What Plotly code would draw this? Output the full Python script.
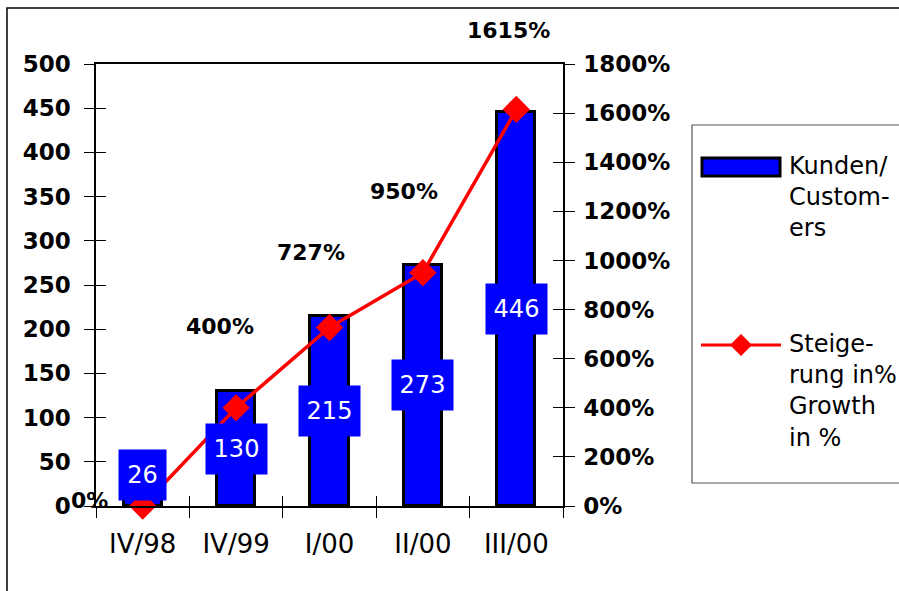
import plotly.graph_objects as go

# ---- data ----
quarters = ["IV/98", "IV/99", "I/00", "II/00", "III/00"]
customers = [26, 130, 215, 273, 446]
growth_pct = [0, 400, 727, 950, 1615]
left_ticks = list(range(0, 501, 50))
right_ticks = list(range(0, 1801, 200))
right_tick_text = [f"{v}%" for v in right_ticks]

W, H = 899, 591
L, R, T, B = 96, 563, 64, 506  # plot area in px


def px(x):
    return (x - L) / (R - L)


def py(y):
    return (B - y) / (B - T)


FONT = "DejaVu Sans"

fig = go.Figure()

fig.add_trace(go.Bar(
    x=quarters, y=customers, width=0.41,
    marker=dict(color="#0000ff", line=dict(color="black", width=3)),
    showlegend=False, hoverinfo="skip", xaxis="x", yaxis="y",
))
fig.add_trace(go.Scatter(
    x=quarters, y=growth_pct, mode="lines+markers",
    line=dict(color="#ff0000", width=3.5),
    marker=dict(symbol="diamond", size=21, color="#ff0000"),
    cliponaxis=False, showlegend=False, hoverinfo="skip",
    xaxis="x", yaxis="y2",
))
# invisible helpers for inside tick copies
fig.add_trace(go.Scatter(x=quarters, y=customers, mode="markers",
                         marker=dict(opacity=0), showlegend=False,
                         hoverinfo="skip", xaxis="x2", yaxis="y3"))
fig.add_trace(go.Scatter(x=quarters, y=growth_pct, mode="markers",
                         marker=dict(opacity=0), showlegend=False,
                         hoverinfo="skip", xaxis="x", yaxis="y4"))

tickfont_b = dict(family=FONT, size=23, color="black", weight="bold")

fig.update_layout(
    width=W, height=H,
    margin=dict(l=L, r=W - R, t=T, b=H - B, pad=0),
    paper_bgcolor="white", plot_bgcolor="white",
    bargap=0, hovermode=False,
    xaxis=dict(type="category", categoryorder="array", categoryarray=quarters,
               tickson="boundaries", ticks="outside", ticklen=10,
               tickcolor="black", tickwidth=1,
               showline=True, linecolor="black", linewidth=1.5, mirror=True,
               showgrid=False, zeroline=False,
               tickfont=dict(family=FONT, size=26, color="black"),
               ticklabelstandoff=14,
               anchor="y", domain=[0, 1], range=[-0.5, 4.5]),
    xaxis2=dict(type="category", categoryorder="array", categoryarray=quarters,
                tickson="boundaries", ticks="inside", ticklen=10,
                tickcolor="black", tickwidth=1, showticklabels=False,
                showline=False, showgrid=False, zeroline=False,
                overlaying="x", anchor="y", range=[-0.5, 4.5]),
    yaxis=dict(range=[0, 500], tickvals=left_ticks, ticks="outside", ticklen=10,
               tickcolor="black", tickwidth=1,
               showline=True, linecolor="black", linewidth=1.5,
               showgrid=False, zeroline=False, tickfont=tickfont_b,
               ticklabelstandoff=9),
    yaxis2=dict(range=[0, 1800], tickvals=right_ticks, ticktext=right_tick_text,
                overlaying="y", side="right", ticks="outside", ticklen=10,
                tickcolor="black", tickwidth=1,
                showline=True, linecolor="black", linewidth=1.5,
                showgrid=False, zeroline=False, tickfont=tickfont_b,
                ticklabelstandoff=4),
    yaxis3=dict(range=[0, 500], tickvals=left_ticks, ticks="inside", ticklen=10,
                tickcolor="black", tickwidth=1, showticklabels=False,
                showline=False, showgrid=False, zeroline=False,
                overlaying="y", side="left"),
    yaxis4=dict(range=[0, 1800], tickvals=right_ticks, ticks="inside", ticklen=10,
                tickcolor="black", tickwidth=1, showticklabels=False,
                showline=False, showgrid=False, zeroline=False,
                overlaying="y", side="right"),
)

annotations = []
# value boxes inside bars (first box lifted so the diamond stays visible)
box_lift = [20, 0, 0, 0, 0]
for q, v, lift in zip(quarters, customers, box_lift):
    s = str(v)
    annotations.append(dict(
        x=q, y=v / 2, xref="x", yref="y", text=s, showarrow=False,
        yshift=lift,
        font=dict(family=FONT, size=24, color="white"),
        bgcolor="#0000ff", width=len(s) * 14 + 17, height=48,
        xanchor="center", yanchor="middle",
    ))

# growth labels
label_offsets = [(-53, 6), (-16, 81), (-19, 75), (-19, 81), (-8, 79)]
for q, g, (dx, dy) in zip(quarters, growth_pct, label_offsets):
    annotations.append(dict(
        x=q, y=g, xref="x", yref="y2", text=f"{g}%", showarrow=False,
        xshift=dx, yshift=dy,
        font=dict(family=FONT, size=22, color="black", weight="bold"),
        xanchor="center", yanchor="middle",
    ))

# legend text
annotations.append(dict(
    x=px(787), y=py(150), xref="paper", yref="paper",
    text="Kunden/<br>Custom-<br>ers", showarrow=False, align="left",
    xanchor="left", yanchor="top",
    font=dict(family=FONT, size=24, color="black"),
))
annotations.append(dict(
    x=px(787), y=py(328), xref="paper", yref="paper",
    text="Steige-<br>rung in%<br>Growth<br>in %", showarrow=False, align="left",
    xanchor="left", yanchor="top",
    font=dict(family=FONT, size=24, color="black"),
))
fig.update_layout(annotations=annotations)

shapes = [
    # outer frame
    dict(type="rect", xref="paper", yref="paper",
         x0=px(7), x1=px(910), y0=py(8), y1=py(600),
         line=dict(color="black", width=1.5), layer="below"),
    # legend box
    dict(type="rect", xref="paper", yref="paper",
         x0=px(692), x1=px(910), y0=py(125), y1=py(483),
         line=dict(color="#555555", width=1.2)),
    # legend bar symbol
    dict(type="rect", xref="paper", yref="paper",
         x0=px(702), x1=px(780), y0=py(158), y1=py(176),
         fillcolor="#0000ff", line=dict(color="black", width=3)),
    # legend line symbol
    dict(type="line", xref="paper", yref="paper",
         x0=px(701), x1=px(781), y0=py(345), y1=py(345),
         line=dict(color="#ff0000", width=3)),
]
cx, cy, r = 741, 345, 11
shapes.append(dict(
    type="path", xref="paper", yref="paper",
    path=(f"M {px(cx)} {py(cy - r)} L {px(cx + r)} {py(cy)} "
          f"L {px(cx)} {py(cy + r)} L {px(cx - r)} {py(cy)} Z"),
    fillcolor="#ff0000", line=dict(color="#ff0000", width=0),
))
fig.update_layout(shapes=shapes)

fig.write_html("out.html",
               config={"displayModeBar": False},
               post_script="document.body.style.margin='0';"
                           "document.body.style.overflow='hidden';")
